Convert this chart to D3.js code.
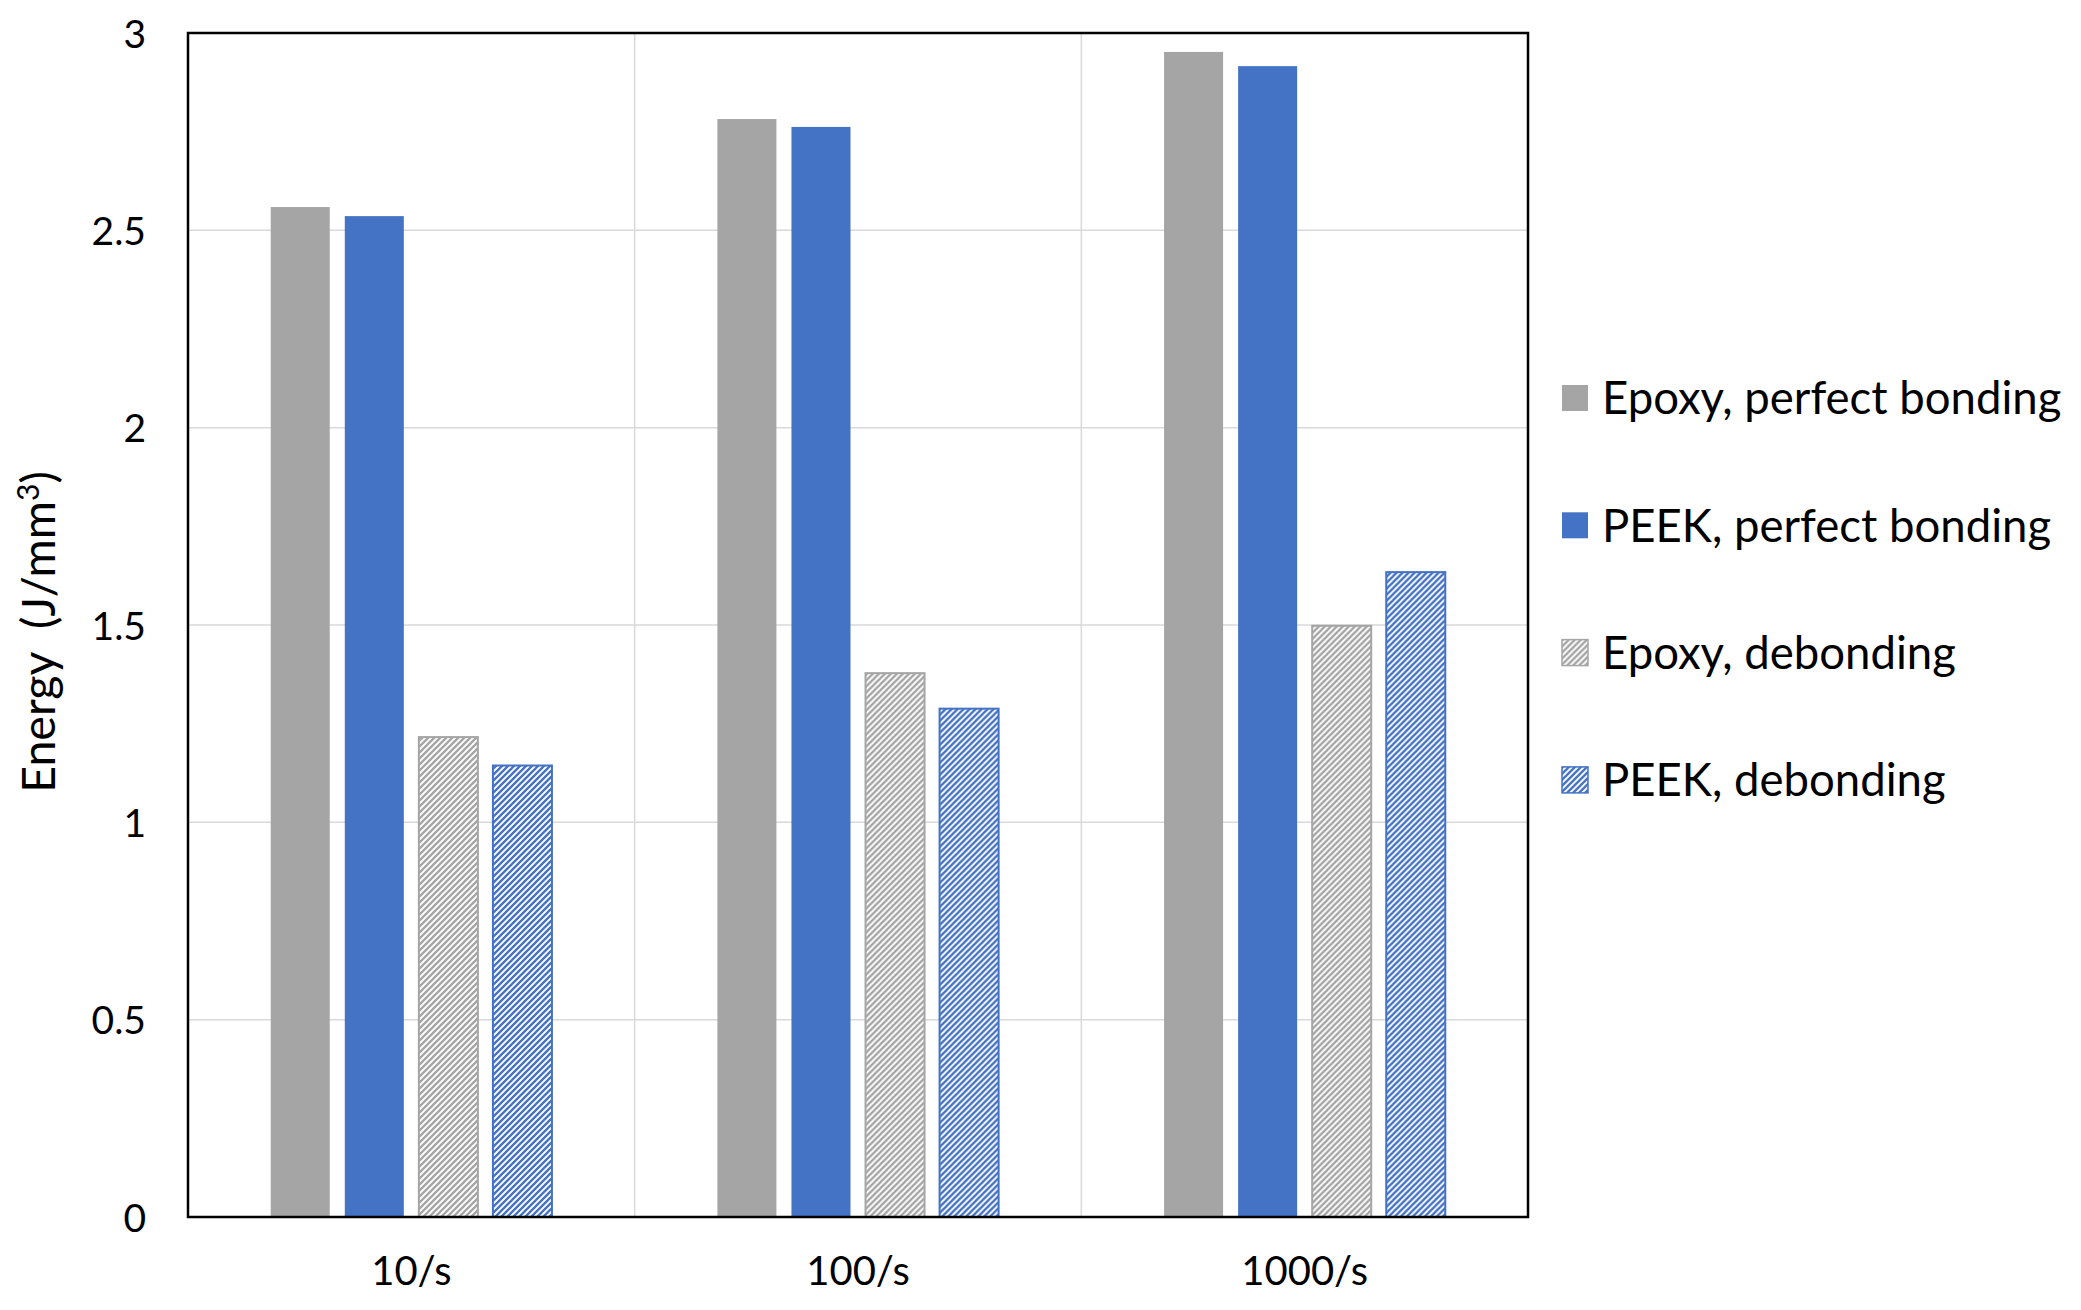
<!DOCTYPE html>
<html>
<head>
<meta charset="utf-8">
<script src="https://cdn.jsdelivr.net/npm/d3@7"></script>
<style>
  html, body { margin: 0; padding: 0; background: #fff; }
  svg { display: block; font-family: Lato, "Open Sans", sans-serif; }
</style>
</head>
<body>
<svg id="chart" width="2081" height="1310"></svg>
<script>
const categories = ["10/s", "100/s", "1000/s"];
const seriesNames = ["Epoxy, perfect bonding", "PEEK, perfect bonding", "Epoxy, debonding", "PEEK, debonding"];
const epoxyPerfect = [2.559, 2.782, 2.952];
const peekPerfect = [2.536, 2.762, 2.916];
const epoxyDebond = [1.216, 1.378, 1.498];
const peekDebond = [1.144, 1.288, 1.634];
const seriesValues = [epoxyPerfect, peekPerfect, epoxyDebond, peekDebond];
const yTicks = [0, 0.5, 1, 1.5, 2, 2.5, 3];
const yTickLabels = ["0", "0.5", "1", "1.5", "2", "2.5", "3"];

const GRAY = "#a5a5a5", BLUE = "#4472c4";
const styles = [
  {fill: GRAY, hatch: false},
  {fill: BLUE, hatch: false},
  {fill: GRAY, hatch: true},
  {fill: BLUE, hatch: true}
];

const svg = d3.select("#chart");
const m = {left: 188, right: 1528, top: 33, bottom: 1217};

const defs = svg.append("defs");
styles.forEach((s, i) => {
  if (!s.hatch) return;
  const p = defs.append("pattern").attr("id", "hatch" + i)
    .attr("patternUnits", "userSpaceOnUse").attr("width", 6).attr("height", 6);
  p.append("rect").attr("width", 6).attr("height", 6).attr("fill", "#fff");
  p.append("path").attr("d", "M-1,1 L1,-1 M0,6 L6,0 M5,7 L7,5")
    .attr("stroke", s.fill).attr("stroke-width", 2.3);
});

const y = d3.scaleLinear().domain([0, 3]).range([m.bottom, m.top]);
const x0 = d3.scaleBand().domain(categories).range([m.left, m.right]).padding(0);
const x1 = d3.scaleBand().domain(d3.range(seriesNames.length))
  .range([0, x0.bandwidth()]).paddingInner(0.203).paddingOuter(1.117);

// gridlines
svg.append("g").selectAll("line").data(yTicks.filter(t => t > 0 && t < 3)).join("line")
  .attr("x1", m.left).attr("x2", m.right)
  .attr("y1", d => y(d)).attr("y2", d => y(d))
  .attr("stroke", "#d9d9d9").attr("stroke-width", 1.5);
svg.append("g").selectAll("line").data(categories.slice(1)).join("line")
  .attr("x1", d => x0(d)).attr("x2", d => x0(d))
  .attr("y1", m.top).attr("y2", m.bottom)
  .attr("stroke", "#d9d9d9").attr("stroke-width", 1.5);

// bars
const groups = svg.append("g").selectAll("g").data(categories).join("g")
  .attr("transform", d => `translate(${x0(d)},0)`);
groups.selectAll("rect").data((c, ci) => seriesValues.map((vals, si) => ({si, v: vals[ci]}))).join("rect")
  .attr("x", d => x1(d.si))
  .attr("width", x1.bandwidth())
  .attr("y", d => y(d.v))
  .attr("height", d => y(0) - y(d.v))
  .attr("fill", d => styles[d.si].hatch ? `url(#hatch${d.si})` : styles[d.si].fill)
  .attr("stroke", d => styles[d.si].hatch ? styles[d.si].fill : "none")
  .attr("stroke-width", 2);

// frame
svg.append("rect").attr("x", m.left).attr("y", m.top)
  .attr("width", m.right - m.left).attr("height", m.bottom - m.top)
  .attr("fill", "none").attr("stroke", "#000").attr("stroke-width", 2.5);

// y axis
const yAxis = d3.axisLeft(y).tickValues(yTicks).tickFormat((d, i) => yTickLabels[i]).tickSize(0).tickPadding(42);
const ya = svg.append("g").attr("transform", `translate(${m.left},0)`).call(yAxis);
ya.select(".domain").remove();
ya.selectAll("text").attr("font-size", 39).attr("font-family", "Lato, sans-serif").attr("fill", "#000").attr("dy", "0.36em");

// x axis
const xAxis = d3.axisBottom(x0).tickSize(0).tickPadding(40);
const xa = svg.append("g").attr("transform", `translate(0,${m.bottom})`).call(xAxis);
xa.select(".domain").remove();
xa.selectAll("text").attr("font-size", 40).attr("font-family", "Lato, sans-serif").attr("fill", "#000");

// y title
const yt = svg.append("text").attr("transform", `translate(55,632) rotate(-90)`)
  .attr("text-anchor", "middle").attr("font-size", 46.5).attr("fill", "#000")
  .style("white-space", "pre");
yt.append("tspan").text("Energy  (J/mm");
yt.append("tspan").attr("dy", -16).attr("font-size", 30).text("3");
yt.append("tspan").attr("dy", 16).text(")");

// legend
const leg = svg.append("g").selectAll("g").data(seriesNames).join("g")
  .attr("transform", (d, i) => `translate(1562,${398 + i * 127.3})`);
leg.append("rect").attr("x", 0).attr("y", -13).attr("width", 26).attr("height", 26)
  .attr("fill", (d, i) => styles[i].hatch ? `url(#hatch${i})` : styles[i].fill)
  .attr("stroke", (d, i) => styles[i].hatch ? styles[i].fill : "none").attr("stroke-width", 1.5);
leg.append("text").attr("x", 40).attr("y", 0).attr("dy", "0.36em")
  .attr("font-size", 45.5).attr("fill", "#000").text(d => d);
</script>
</body>
</html>
